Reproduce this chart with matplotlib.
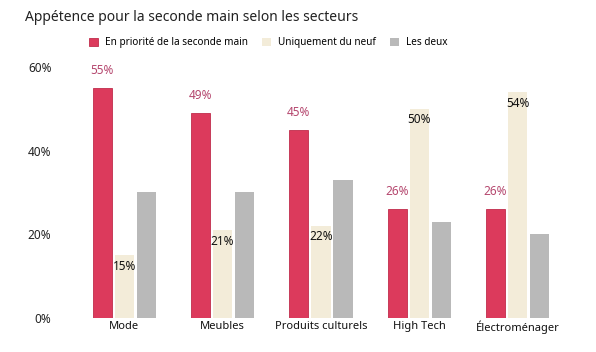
import numpy as np
import matplotlib.pyplot as plt

plt.rcParams['font.family'] = ['Noto Sans', 'DejaVu Sans']

# Données
secteurs = ['Mode', 'Meubles', 'Produits culturels', 'High Tech', 'Électroménager']
seconde_main = [55, 49, 45, 26, 26]
neuf = [15, 21, 22, 50, 54]
les_deux = [30, 30, 33, 23, 20]

rouge = '#dc3a5c'
creme = '#f3ecd9'
gris = '#b9b9b9'

fig = plt.figure(figsize=(5.96, 3.52), dpi=100)
ax = fig.add_axes([0.126, 0.097, 0.825, 0.713])

x = np.arange(len(secteurs))
w = 0.195
pas = 0.225

b1 = ax.bar(x - pas, seconde_main, w, color=rouge, edgecolor='#c02c4c', linewidth=0.6,
            label='En priorité de la seconde main')
b2 = ax.bar(x, neuf, w, color=creme, label='Uniquement du neuf')
b3 = ax.bar(x + pas, les_deux, w, color=gris, label='Les deux')

# Étiquettes au-dessus des barres rouges
for xi, v in zip(x - pas, seconde_main):
    ax.annotate(f'{v}%', (xi, v), xytext=(0, 8), textcoords='offset points',
                ha='center', va='bottom', fontsize=8.5, color='#b5476e', clip_on=False)

# Étiquettes dans le haut des barres crème
for xi, v in zip(x, neuf):
    ax.annotate(f'{v}%', (xi, v), xytext=(0, -8), textcoords='offset points',
                ha='center', va='center', fontsize=8.5, color='#111111')

ax.set_xlim(-0.5, 4.5)
ax.set_ylim(0, 60)
ax.set_yticks([0, 20, 40, 60])
ax.set_yticklabels(['0%', '20%', '40%', '60%'], fontsize=8.5, color='#222222')
ax.set_xticks(x)
ax.set_xticklabels(secteurs, fontsize=8, color='#111111')
ax.tick_params(length=0, pad=2)
ax.tick_params(axis='y', pad=17)
for s in ax.spines.values():
    s.set_visible(False)

fig.text(0.042, 0.95, 'Appétence pour la seconde main selon les secteurs',
         fontsize=10, color='#222222', va='center', ha='left')

fig.legend(handles=[b1, b2, b3], loc='center', bbox_to_anchor=(0.45, 0.878), ncol=3,
           frameon=False, fontsize=7.2, handlelength=0.9, handleheight=0.9,
           handletextpad=0.7, columnspacing=1.4)

fig.savefig('out.png', dpi=100)
